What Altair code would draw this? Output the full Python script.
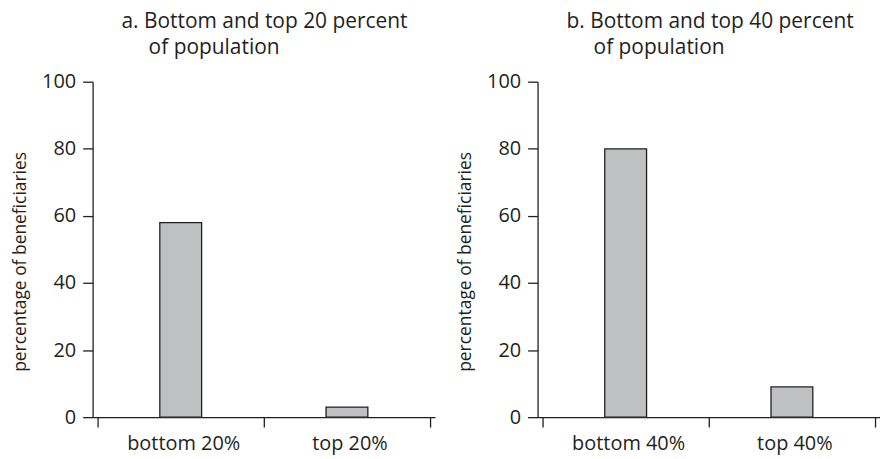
import json
import altair as alt
import pandas as pd

# data
cats_a = ["bottom 20%", "top 20%"]
vals_a = [58, 3]
cats_b = ["bottom 40%", "top 40%"]
vals_b = [80, 9]
title_a = ["a. Bottom and top 20 percent", "\u200b\u00a0\u00a0\u00a0\u00a0\u00a0of population"]
title_b = ["b. Bottom and top 40 percent", "\u200b\u00a0\u00a0\u00a0\u00a0\u00a0of population"]
y_ticks = [0, 20, 40, 60, 80, 100]
y_title = "percentage of beneficiaries"

FONT = "Open Sans"
INK = "#231f20"
W, H = 344, 337


def panel(cats, vals, title):
    n = len(cats)
    df = pd.DataFrame({"cat": cats, "val": vals, "pos": [i + 0.5 for i in range(n)]})
    label_arr = json.dumps(cats + [""])
    return (
        alt.Chart(df)
        .mark_bar(size=42, color="#bfc0c2", stroke=INK, strokeWidth=1.3)
        .encode(
            x=alt.X(
                "pos:Q",
                title=None,
                scale=alt.Scale(domain=[0, n], nice=False, zero=False),
                axis=alt.Axis(
                    values=list(range(n + 1)),
                    labelExpr=f"{label_arr}[datum.value]",
                    labelOffset={"condition": {"test": f"datum.value >= {n}", "value": 0},
                                 "value": W / n / 2},
                    labelFlush=False,
                    labelOverlap=False,
                    labelAngle=0,
                    tickSize=10,
                    labelPadding=7,
                ),
            ),
            y=alt.Y(
                "val:Q",
                title=y_title,
                scale=alt.Scale(domain=[0, 100], nice=False),
                axis=alt.Axis(values=y_ticks, tickSize=10, labelPadding=7,
                              titlePadding=12, grid=False, titleFontSize=17.5,
                              titleY=H / 2 + 12),
            ),
            tooltip=["cat:N", "val:Q"],
        )
        .properties(
            width=W,
            height=H,
            title=alt.TitleParams(
                text=title, anchor="start", frame="group", dx=29, offset=14, fontSize=21,
                font=FONT, fontWeight="normal", color=INK, lineHeight=26,
            ),
        )
    )


chart = (
    alt.hconcat(panel(cats_a, vals_a, title_a), panel(cats_b, vals_b, title_b), spacing=21)
    .properties(padding={"left": 3, "top": 2, "right": 0, "bottom": 0})
    .configure_view(stroke=None)
    .configure_axis(
        labelFont=FONT, titleFont=FONT, labelFontSize=20, titleFontSize=17.5,
        labelColor=INK, titleColor=INK, titleFontWeight="normal",
        domainColor=INK, tickColor=INK, domainWidth=1.3, tickWidth=1.3, grid=False,
    )
)

chart.save("out.html", embed_options={"renderer": "svg", "actions": False})
